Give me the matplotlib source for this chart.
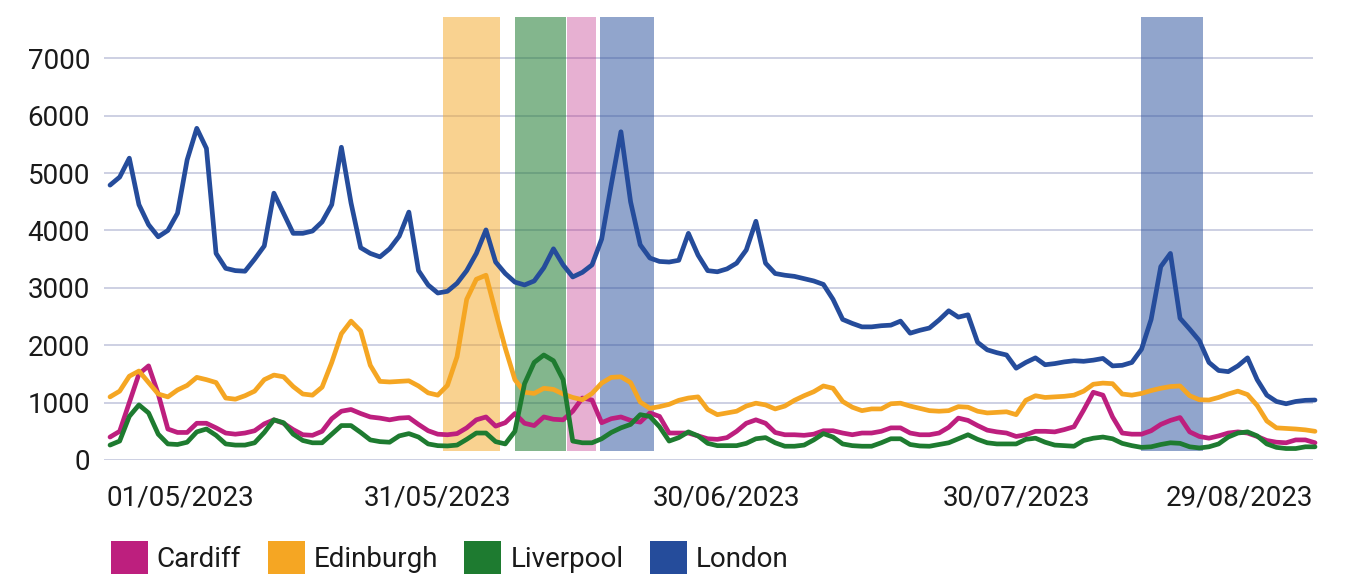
import matplotlib
matplotlib.use("Agg")
import matplotlib.pyplot as plt
import matplotlib.transforms as mtransforms
from matplotlib.patches import Patch
import pandas as pd

plt.rcParams['font.family'] = ['Roboto', 'DejaVu Sans']

# daily values, starting 27/04/2023
start_date = "2023-04-27"

cardiff = [400, 500, 1000, 1500, 1640, 1150, 540, 480, 480, 640,
           640, 560, 470, 450, 470, 510, 630, 700, 640, 530,
           440, 430, 500, 720, 850, 880, 810, 750, 730, 700,
           730, 740, 620, 510, 450, 440, 460, 560, 700, 750,
           590, 650, 810, 640, 600, 750, 710, 700, 850, 1080,
           1045, 650, 720, 750, 690, 660, 820, 760, 470, 470,
           470, 420, 370, 360, 390, 500, 640, 700, 640, 480,
           440, 440, 430, 450, 510, 510, 470, 440, 470, 470,
           500, 560, 560, 470, 440, 440, 470, 570, 730, 690,
           600, 520, 490, 470, 410, 440, 500, 500, 490, 530,
           580, 870, 1180, 1130, 750, 470, 450, 450, 510, 620,
           690, 740, 490, 410, 380, 420, 470, 490, 470, 410,
           340, 310, 300, 350, 350, 300]

edinburgh = [1100, 1200, 1460, 1550, 1350, 1150, 1100, 1220, 1300, 1440,
             1400, 1350, 1080, 1060, 1120, 1200, 1400, 1480, 1450, 1280,
             1150, 1130, 1270, 1700, 2200, 2420, 2250, 1650, 1370, 1360,
             1370, 1380, 1290, 1170, 1130, 1300, 1800, 2800, 3150, 3220,
             2580, 1950, 1400, 1180, 1160, 1250, 1230, 1150, 1090, 1050,
             1160, 1340, 1440, 1450, 1350, 1010, 900, 930, 970, 1040,
             1080, 1100, 880, 790, 820, 850, 940, 990, 960, 890,
             940, 1040, 1120, 1190, 1290, 1250, 1020, 920, 860, 890,
             890, 980, 990, 940, 900, 860, 850, 860, 930, 920,
             850, 820, 830, 840, 790, 1040, 1120, 1090, 1100, 1110,
             1130, 1200, 1320, 1340, 1330, 1150, 1130, 1160, 1210, 1250,
             1280, 1290, 1120, 1050, 1045, 1090, 1150, 1200, 1140, 950,
             680, 560, 550, 540, 525, 500]

liverpool = [260, 330, 760, 960, 820, 450, 280, 270, 310, 490,
             540, 430, 280, 260, 260, 300, 480, 700, 650, 450,
             340, 300, 300, 450, 600, 600, 480, 350, 320, 310,
             420, 460, 400, 280, 250, 245, 260, 360, 470, 470,
             320, 280, 500, 1330, 1700, 1830, 1730, 1400, 330, 300,
             300, 370, 480, 560, 620, 790, 760, 580, 330, 390,
             490, 420, 290, 250, 250, 250, 290, 370, 390, 300,
             240, 240, 260, 350, 460, 400, 280, 250, 240, 240,
             300, 370, 370, 270, 245, 240, 270, 300, 370, 440,
             360, 300, 280, 280, 280, 360, 380, 310, 260, 250,
             240, 340, 380, 400, 370, 290, 250, 220, 230, 270,
             300, 290, 230, 210, 230, 280, 400, 470, 490, 420,
             280, 220, 200, 200, 230, 230]

london = [4790, 4930, 5260, 4450, 4100, 3890, 4000, 4300, 5230, 5780,
          5430, 3600, 3340, 3300, 3290, 3500, 3730, 4650, 4300, 3950,
          3950, 3990, 4150, 4450, 5450, 4480, 3700, 3600, 3540, 3680,
          3900, 4320, 3300, 3050, 2910, 2940, 3080, 3300, 3600, 4010,
          3450, 3250, 3100, 3050, 3120, 3350, 3680, 3400, 3190, 3270,
          3400, 3850, 4800, 5720, 4500, 3750, 3520, 3460, 3450, 3480,
          3950, 3570, 3300, 3280, 3330, 3430, 3660, 4160, 3430, 3250,
          3220, 3200, 3160, 3120, 3060, 2800, 2450, 2380, 2320, 2320,
          2340, 2350, 2420, 2210, 2260, 2300, 2440, 2600, 2490, 2530,
          2050, 1920, 1870, 1830, 1600, 1700, 1780, 1660, 1680, 1710,
          1730, 1720, 1740, 1770, 1640, 1650, 1700, 1930, 2450, 3370,
          3600, 2470, 2280, 2080, 1700, 1560, 1540, 1640, 1780, 1400,
          1130, 1020, 980, 1020, 1040, 1045]

names = ["Cardiff", "Edinburgh", "Liverpool", "London"]
colors = ["#bd1f7e", "#f5a623", "#1e7b30", "#254c9b"]

tick_dates = ["2023-05-01", "2023-05-31", "2023-06-30", "2023-07-30", "2023-08-29"]
tick_labels = ["01/05/2023", "31/05/2023", "30/06/2023", "30/07/2023", "29/08/2023"]

# highlighted periods (start, end, city)
band_starts = ["2023-05-31 12:00", "2023-06-08 00:00", "2023-06-13 10:00",
               "2023-06-16 20:00", "2023-08-12 00:00"]
band_ends = ["2023-06-06 12:00", "2023-06-13 06:00", "2023-06-16 10:00",
             "2023-06-22 10:00", "2023-08-18 10:00"]
band_city = ["Edinburgh", "Liverpool", "Cardiff", "London", "London"]
band_alpha = {"Edinburgh": 0.5, "Liverpool": 0.55, "Cardiff": 0.35, "London": 0.5}


def main():
    series = [cardiff, edinburgh, liverpool, london]
    dates = pd.date_range(start_date, periods=len(london), freq="D")

    fig = plt.figure(figsize=(13.45, 5.77), dpi=100)
    ax = fig.add_axes([104 / 1345, 117 / 577, 1209 / 1345, 443 / 577])

    for s, e, city in zip(band_starts, band_ends, band_city):
        ax.axvspan(pd.Timestamp(s), pd.Timestamp(e), ymin=0.021, ymax=1,
                   color=colors[names.index(city)], alpha=band_alpha[city],
                   lw=0)

    for i in range(len(names)):
        ax.plot(dates, series[i], color=colors[i], lw=3.4,
                solid_joinstyle='round', solid_capstyle='round',
                clip_on=False, zorder=3 + i)

    ax.set_xlim(dates[0] - pd.Timedelta(hours=15),
                dates[-1] - pd.Timedelta(hours=5))
    ax.set_ylim(0, 7720)
    ax.set_yticks(range(0, 8000, 1000))
    ax.yaxis.grid(True, color="#c9cde1", lw=1.3)
    ax.set_axisbelow(True)
    ax.tick_params(axis='y', length=0, pad=10, labelsize=20,
                   labelcolor="#1a1a1a")
    ax.set_xticks([])
    for sp in ax.spines.values():
        sp.set_visible(False)

    # date labels, the outer ones kept inside the plot area
    trans = mtransforms.blended_transform_factory(ax.transData, ax.transAxes)
    for k, (d, lab) in enumerate(zip(tick_dates, tick_labels)):
        if k == 0:
            ax.text(0.002, -0.1016, lab, transform=ax.transAxes, ha='left',
                    va='baseline', fontsize=20, color="#1a1a1a")
        elif k == len(tick_dates) - 1:
            ax.text(1.0, -0.1016, lab, transform=ax.transAxes, ha='right',
                    va='baseline', fontsize=20, color="#1a1a1a")
        else:
            ax.text(pd.Timestamp(d), -0.1016, lab, transform=trans,
                    ha='center', va='baseline', fontsize=20, color="#1a1a1a")

    handles = [Patch(facecolor=c, edgecolor='none') for c in colors]
    fig.legend(handles, names, loc='upper left',
               bbox_to_anchor=(111 / 1345, 1 - 541 / 577), ncol=4,
               frameon=False, fontsize=20, handlelength=1.33,
               handleheight=1.45, handletextpad=0.32, columnspacing=0.95,
               borderpad=0, borderaxespad=0, labelcolor="#1a1a1a")

    fig.savefig("out.png", dpi=100)
    return 0


if __name__ == '__main__':
    main()
